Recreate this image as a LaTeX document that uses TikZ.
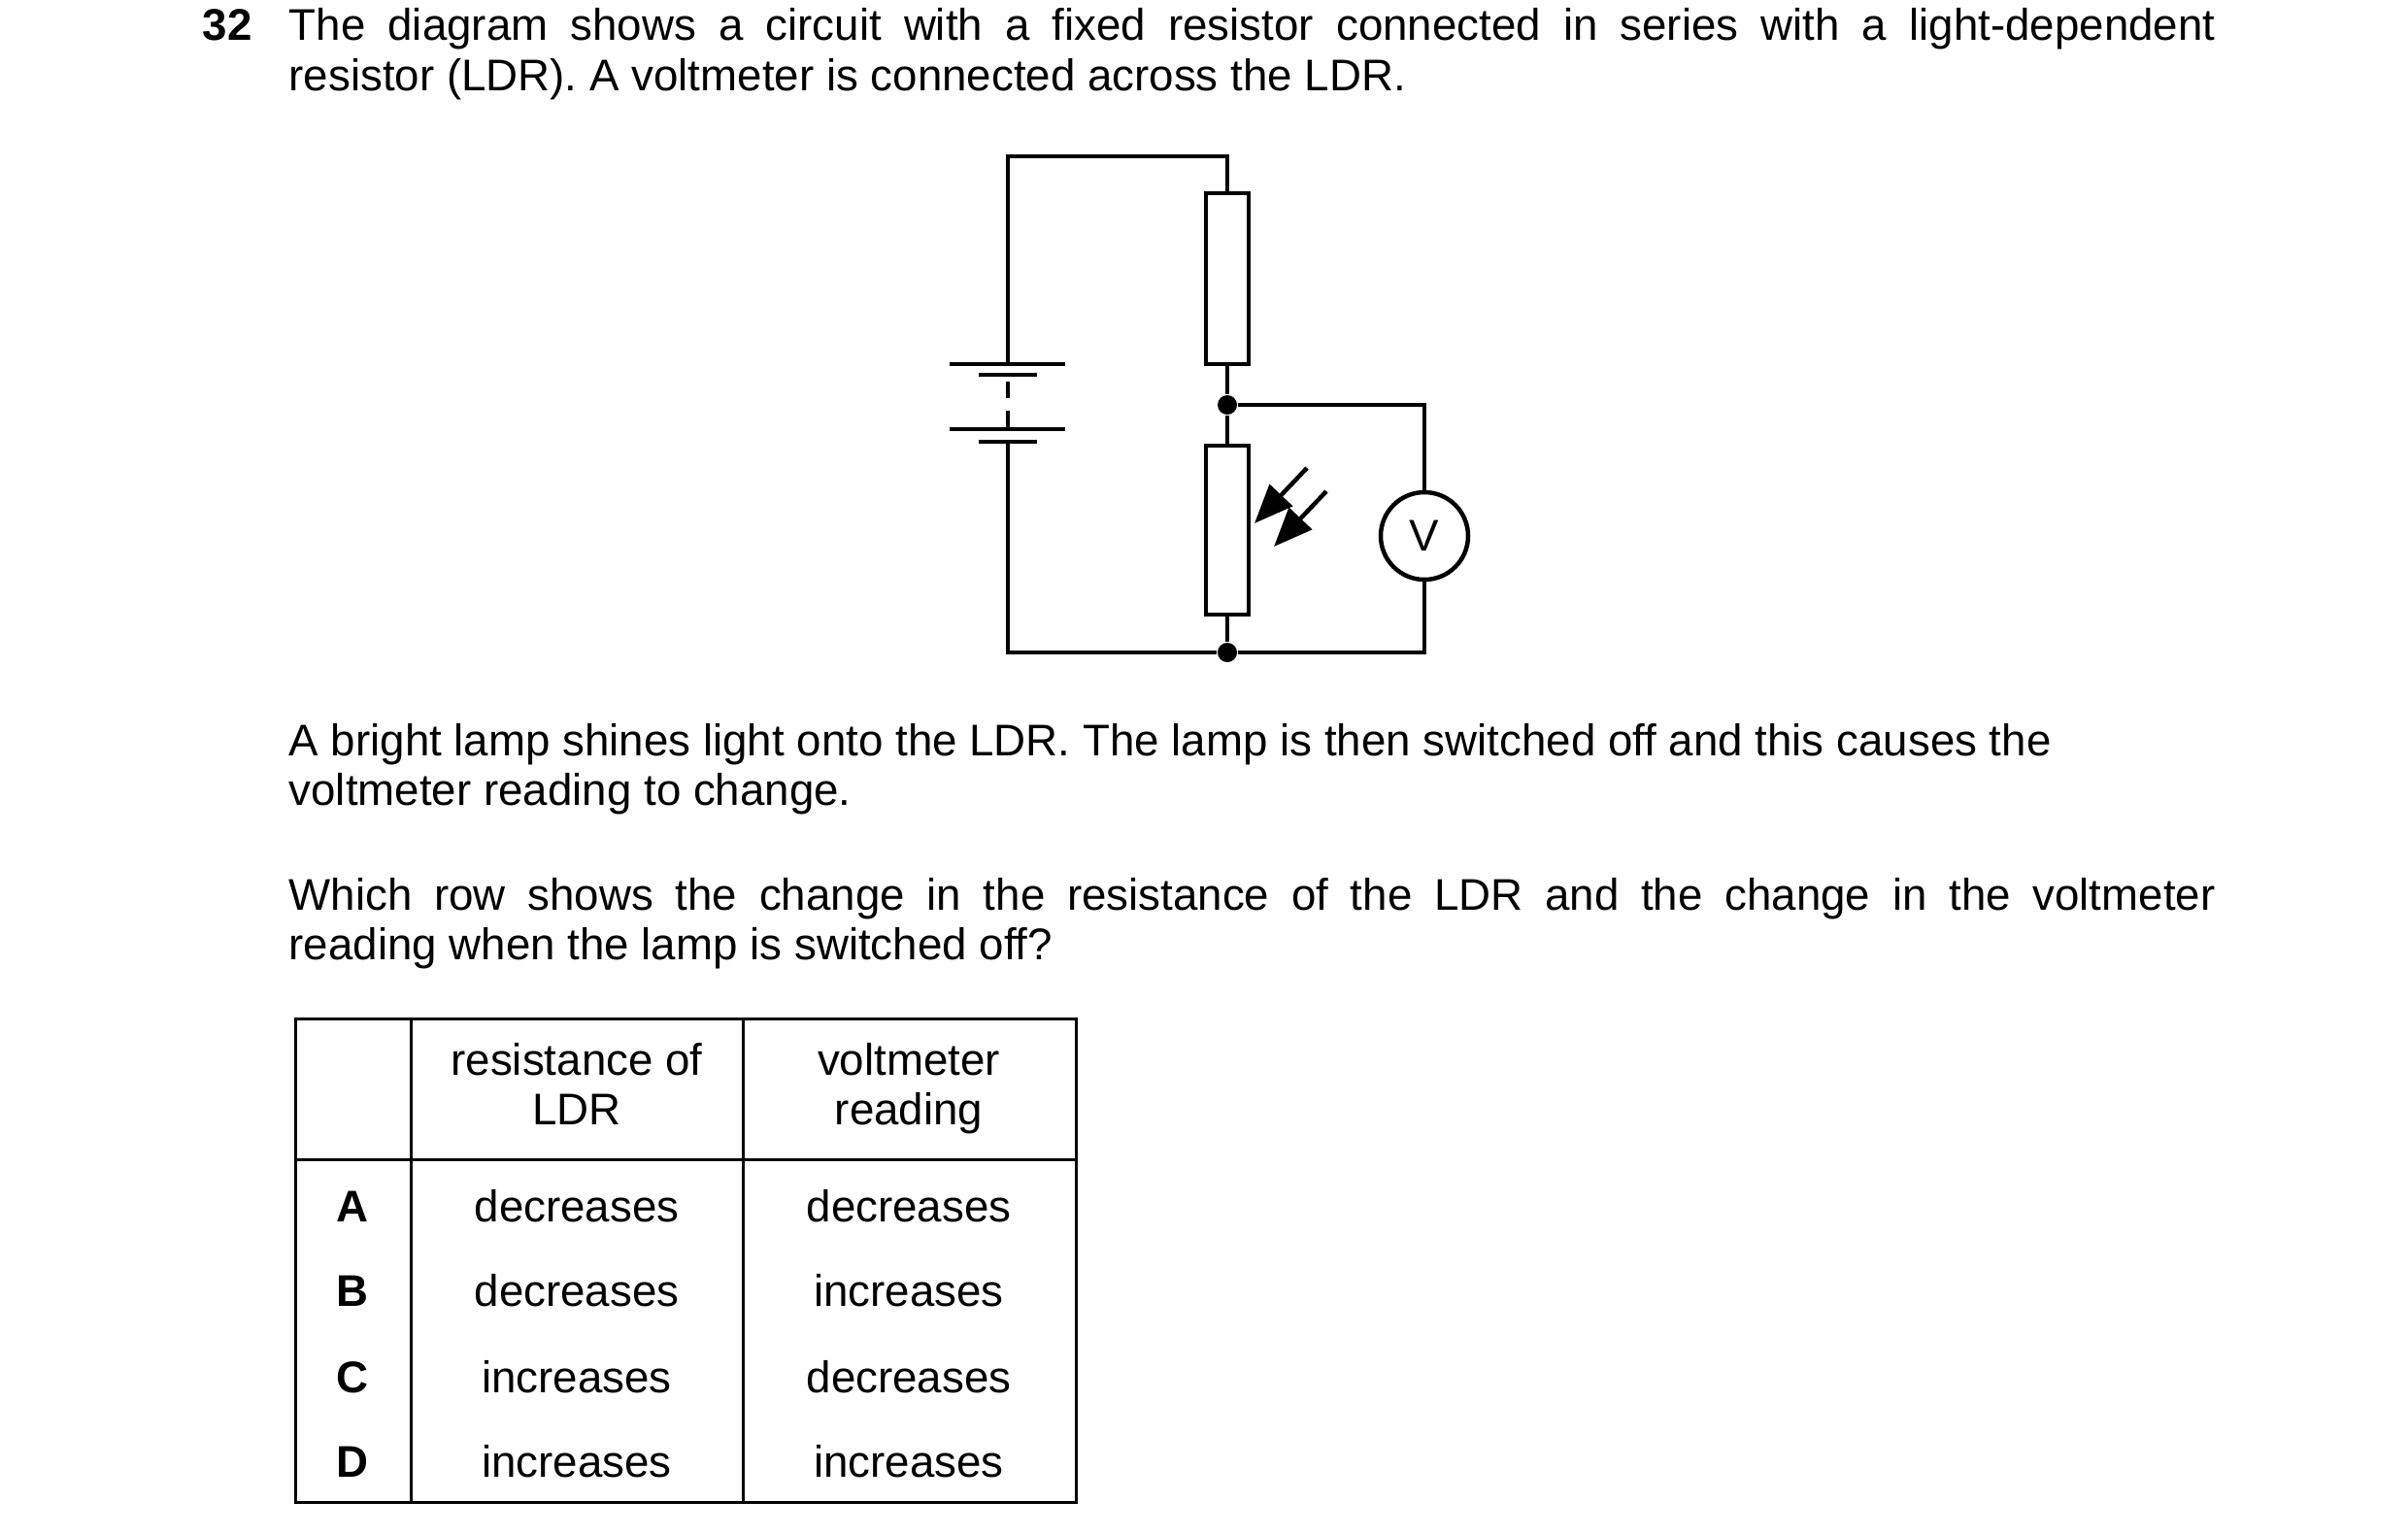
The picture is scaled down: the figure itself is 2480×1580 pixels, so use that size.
\documentclass[tikz,border=0pt]{standalone}
\usepackage{fontspec}
\setmainfont{Liberation Sans}
\usetikzlibrary{arrows.meta}
\begin{document}
\begin{tikzpicture}[x=0.1mm,y=-0.1mm,
  wire/.style={line width=0.45mm},
  res/.style={draw,line width=0.45mm,minimum width=4.4mm,minimum height=#1,inner sep=0},
  dot/.style={circle,fill,inner sep=0,minimum size=2mm},
  txt/.style={anchor=base west,inner sep=0,font=\fontsize{13pt}{15pt}\selectfont},
  cell/.style={anchor=base,inner sep=0,font=\fontsize{13pt}{15pt}\selectfont},
  grid/.style={line width=0.3mm}]
\useasboundingbox (0,0) rectangle (2480,1580);
% text
\node[txt,font=\fontsize{13pt}{15pt}\selectfont\bfseries] (num) at (208,41) {32};
\node[txt] (l1) at (297,41) {\makebox[198.4mm][s]{The diagram shows a circuit with a fixed resistor connected in series with a light-dependent}};
\node[txt] (l2) at (297,93) {resistor (LDR). A voltmeter is connected across the LDR.};
\node[txt] (p2a) at (297,778) {A bright lamp shines light onto the LDR. The lamp is then switched off and this causes the};
\node[txt] (p2b) at (297,829) {voltmeter reading to change.};
\node[txt] (p3a) at (297,937) {\makebox[198.4mm][s]{Which row shows the change in the resistance of the LDR and the change in the voltmeter}};
\node[txt] (p3b) at (297,988) {reading when the lamp is switched off?};
% circuit
\node[res=17.6mm] (R) at (1264,287) {};
\node[res=17.4mm] (LDR) at (1264,546) {};
\node[dot] (j1) at (1264,417) {};
\node[dot] (j2) at (1264,672) {};
\node[circle,draw,line width=0.45mm,minimum size=9mm,inner sep=0,font=\fontsize{13pt}{15pt}\selectfont] (V) at (1467,552) {V};
\coordinate (tl) at (1038,161);
\coordinate (tr) at (1264,161);
\coordinate (bl) at (1038,672);
\coordinate (b1) at (1038,375);
\coordinate (b2) at (1038,455);
\coordinate (vr1) at (1467,417);
\coordinate (vr2) at (1467,672);
\draw[wire] (b1) -- (tl) -- (tr) -- (R.north);
\draw[wire] (R.south) -- (j1) -- (LDR.north);
\draw[wire] (LDR.south) -- (j2);
\draw[wire] (b2) -- (bl) -- (j2) -- (vr2) -- (V.south);
\draw[wire] (j1) -- (vr1) -- (V.north);
% battery
\draw[wire] (978,375) -- (1097,375);
\draw[wire] (1008,386) -- (1068,386);
\draw[wire] (978,442) -- (1097,442);
\draw[wire] (1008,455) -- (1068,455);
\draw[wire,dash pattern=on 1.7mm off 1.3mm] (1038,393) -- (1038,442);
% light arrows
\coordinate (a1s) at (1346,482); \coordinate (a1e) at (1292,539);
\coordinate (a2s) at (1366,506); \coordinate (a2e) at (1312,563);
\draw[wire,-{Triangle[length=4mm,width=3.2mm]}] (a1s) -- (a1e);
\draw[wire,-{Triangle[length=4mm,width=3.2mm]}] (a2s) -- (a2e);
% table
\draw[grid] (304,1049) rectangle (1108,1547);
\draw[grid] (304,1194) -- (1108,1194);
\draw[grid] (423,1049) -- (423,1547);
\draw[grid] (765,1049) -- (765,1547);
\node[cell] (h1a) at (594,1107) {resistance of};
\node[cell] (h1b) at (594,1158) {LDR};
\node[cell] (h2a) at (936,1107) {voltmeter};
\node[cell] (h2b) at (936,1158) {reading};
\foreach \y/\L/\a/\b in {1258/A/decreases/decreases,1345/B/decreases/increases,1434/C/increases/decreases,1521/D/increases/increases}{
  \node[cell,font=\fontsize{13pt}{15pt}\selectfont\bfseries] at (363,\y) {\L};
  \node[cell] at (594,\y) {\a};
  \node[cell] at (936,\y) {\b};
}
\end{tikzpicture}
\end{document}
